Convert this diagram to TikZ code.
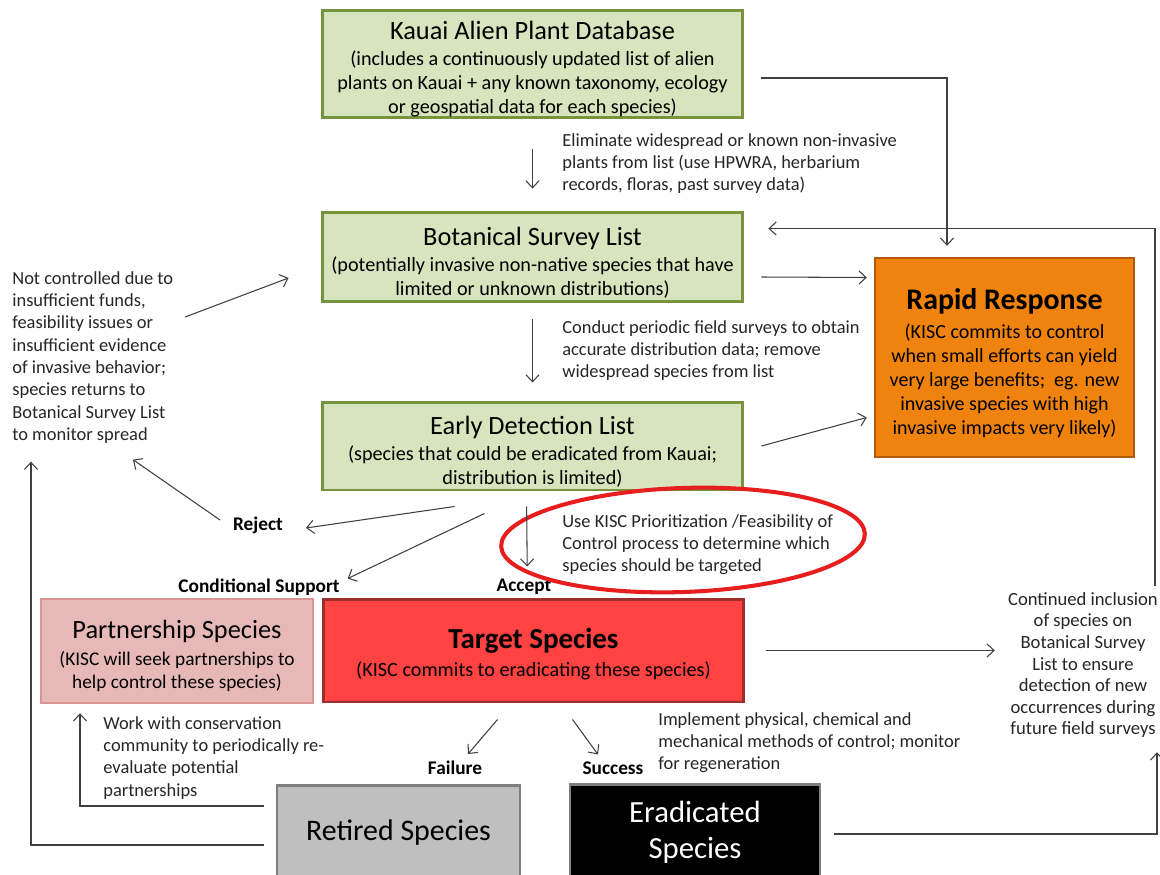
\documentclass[tikz,border=0pt]{standalone}
\usepackage{fontspec}
\setmainfont{Carlito}
\usetikzlibrary{arrows.meta,positioning,calc}
\definecolor{listfill}{HTML}{D7E4BD}
\definecolor{listframe}{HTML}{77933C}
\definecolor{rapidfill}{HTML}{F0820E}
\definecolor{rapidframe}{HTML}{B55A0B}
\definecolor{targetfill}{HTML}{FF4242}
\definecolor{targetframe}{HTML}{9C2E2E}
\definecolor{partfill}{HTML}{E6B9B8}
\definecolor{partframe}{HTML}{D99694}
\definecolor{retfill}{HTML}{BFBFBF}
\definecolor{retframe}{HTML}{7F7F7F}
\definecolor{ringred}{HTML}{E81E1E}
\definecolor{inkgray}{HTML}{262626}
\newcommand{\boxtitle}{\fontsize{15}{18}\selectfont}
\newcommand{\boxbody}{\fontsize{11.5}{13.6}\selectfont}
\newcommand{\headstrut}[1][16.5pt]{\rule{0pt}{#1}}
\tikzset{
  listbox/.style={draw=listframe,fill=listfill,line width=1.7pt,minimum width=8.42cm,align=center,inner sep=0pt,font=\boxbody},
  note/.style={anchor=north west,align=left,inner sep=0pt,font=\fontsize{10.5}{12.7}\selectfont,text=inkgray},
  tag/.style={inner sep=1pt,font=\fontsize{11}{13}\selectfont\bfseries},
  flow/.style={draw=black!75,line width=0.6pt,-{Straight Barb[length=4pt,width=7.5pt]}},
}

\begin{document}
\begin{tikzpicture}[x=0.02cm,y=-0.02cm]
\fill[white] (0,0) rectangle (1160,875);
\useasboundingbox (0,0) rectangle (1160,875);
% the three lists
\node[listbox,minimum height=2.16cm] (kapd) at (532.5,64) {{\boxtitle\headstrut Kauai Alien Plant Database}\\[1.2pt](includes a continuously updated list of alien\\plants on Kauai + any known taxonomy, ecology\\or geospatial data for each species)};
\node[listbox,minimum height=1.8cm] (bsl) at (532.5,257) {{\boxtitle\headstrut Botanical Survey List}\\[1.2pt](potentially invasive non-native species that have\\limited or unknown distributions)};
\node[listbox,minimum height=1.76cm] (edl) at (532.5,446) {{\boxtitle\headstrut Early Detection List}\\[1.2pt](species that could be eradicated from Kauai;\\distribution is limited)};
% outcome boxes
\node[draw=rapidframe,fill=rapidfill,line width=1.4pt,minimum width=5.18cm,minimum height=3.98cm,align=center,inner sep=0pt,font=\fontsize{11.4}{13.7}\selectfont] (rapid) at (1004.5,357.5) {{\fontsize{17}{21}\selectfont\bfseries\headstrut[18.5pt]Rapid Response}\\[2.3pt](KISC commits to control\\when small efforts can yield\\very large benefits;~ eg. new\\invasive species with high\\invasive impacts very likely)};
\node[draw=targetframe,fill=targetfill,line width=1.7pt,minimum width=8.42cm,minimum height=2.06cm,align=center,inner sep=0pt,font=\boxbody] (target) at (533.5,650.5) {{\fontsize{16.5}{20}\selectfont\bfseries\headstrut[16pt]Target Species}\\[2.4pt](KISC commits to eradicating these species)};
\node[draw=partframe,fill=partfill,line width=1.4pt,minimum width=5.44cm,minimum height=2.08cm,align=center,inner sep=0pt,font=\fontsize{11}{13.6}\selectfont] (partner) at (177,651) {{\boxtitle\headstrut[16pt]Partnership Species}\\[1.8pt](KISC will seek partnerships to\\help control these species)};
\node[draw=retframe,fill=retfill,line width=1.4pt,minimum width=4.86cm,minimum height=1.9cm,font=\fontsize{17}{20}\selectfont] (retired) at (398.5,833) {Retired Species};
\node[draw=retframe,fill=black,text=white,line width=1.4pt,minimum width=5cm,minimum height=1.9cm,align=center,font=\fontsize{17.5}{20.5}\selectfont] (erad) at (695,832) {Eradicated\\Species};
% notes
\node[note] (elimtxt) at (562,133) {Eliminate widespread or known non-invasive\\plants from list (use HPWRA, herbarium\\records, floras, past survey data)};
\node[note] (condtxt) at (562,320) {Conduct periodic field surveys to obtain\\accurate distribution data; remove\\widespread species from list};
\node[note] (usetxt) at (562,514) {Use KISC Prioritization /Feasibility of\\Control process to determine which\\species should be targeted};
\node[note] (nottxt) at (12,271) {Not controlled due to\\insufficient funds,\\feasibility issues or\\insufficient evidence\\of invasive behavior;\\species returns to\\Botanical Survey List\\to monitor spread};
\node[note] (worktxt) at (103,716) {Work with conservation\\community to periodically re-\\evaluate potential\\partnerships};
\node[note] (impltxt) at (658,712) {Implement physical, chemical and\\mechanical methods of control; monitor\\for regeneration};
\node[note,anchor=north,align=center,font=\fontsize{10.6}{12.3}\selectfont] (conttxt) at (1083,592) {Continued inclusion\\of species on\\Botanical Survey\\List to ensure\\detection of new\\occurrences during\\future field surveys};
% decisions
\node[tag] (reject) at (258,525) {Reject};
\node[tag] (condsup) at (259,587) {Conditional Support};
\node[tag] (accept) at (524,587) {Accept};
\node[tag] (failure) at (455,768) {Failure};
\node[tag] (success) at (613,768) {Success};
\draw[ringred,line width=2.3pt,rotate around={2:(683,540)}] (683,540) ellipse (3.64cm and 1.04cm);
% connectors
\draw[flow,shorten <=0.6cm,shorten >=0.44cm] (kapd.south) -- (bsl.north);
\draw[flow,shorten <=0.32cm,shorten >=0.36cm] (bsl.south) -- (edl.north);
\draw[flow,shorten <=0.3cm,shorten >=0.62cm] ([xshift=-0.12cm]edl.south) -- ([xshift=-0.12cm]target.north);
\draw[flow,shorten <=0.34cm,shorten >=0.22cm] ([yshift=-0.28cm]kapd.east) -| ([xshift=-1.15cm]rapid.north);
\draw[flow] ($(bsl.east)+(17,20)$) -- ($(rapid.west)+(-7,-80)$);
\draw[flow] ($(edl.east)+(17,0)$) -- ($(rapid.west)+(-7,60)$);
\draw[flow,shorten <=0.42cm,shorten >=0.26cm] (target.east) -- (target.east -| conttxt.west);
\draw[flow] ($(conttxt.north)+(72,-6)$) |- ($(bsl.north east)+(24,18)$);
\draw[flow] ($(erad.east)+(13,2)$) -| ($(conttxt.south)+(74,14)$);
\draw[flow] ($(retired.west)+(-12,12)$) -| ($(nottxt.south west)+(19,18)$);
\draw[flow] ($(retired.west)+(-12,-27)$) -| ($(partner.south)+(-97,9)$);
\draw[flow] ($(nottxt.north west)+(173,46)$) -- ($(bsl.west)+(-32,21)$);
\draw[flow] ($(reject.west)+(-11,-5)$) -- ($(nottxt.south west)+(121,16)$);
\draw[flow] ($(edl.south)+(-78,15)$) -- ($(reject.east)+(21,3)$);
\draw[flow] ($(edl.south)+(-48,22)$) -- ($(condsup.north east)+(6,2)$);
\draw[flow] ($(target.south)+(-36,16)$) -- ($(failure.north)+(13,-5)$);
\draw[flow] ($(target.south)+(39,16)$) -- ($(success.north)+(-15,-5)$);
\end{tikzpicture}
\end{document}
